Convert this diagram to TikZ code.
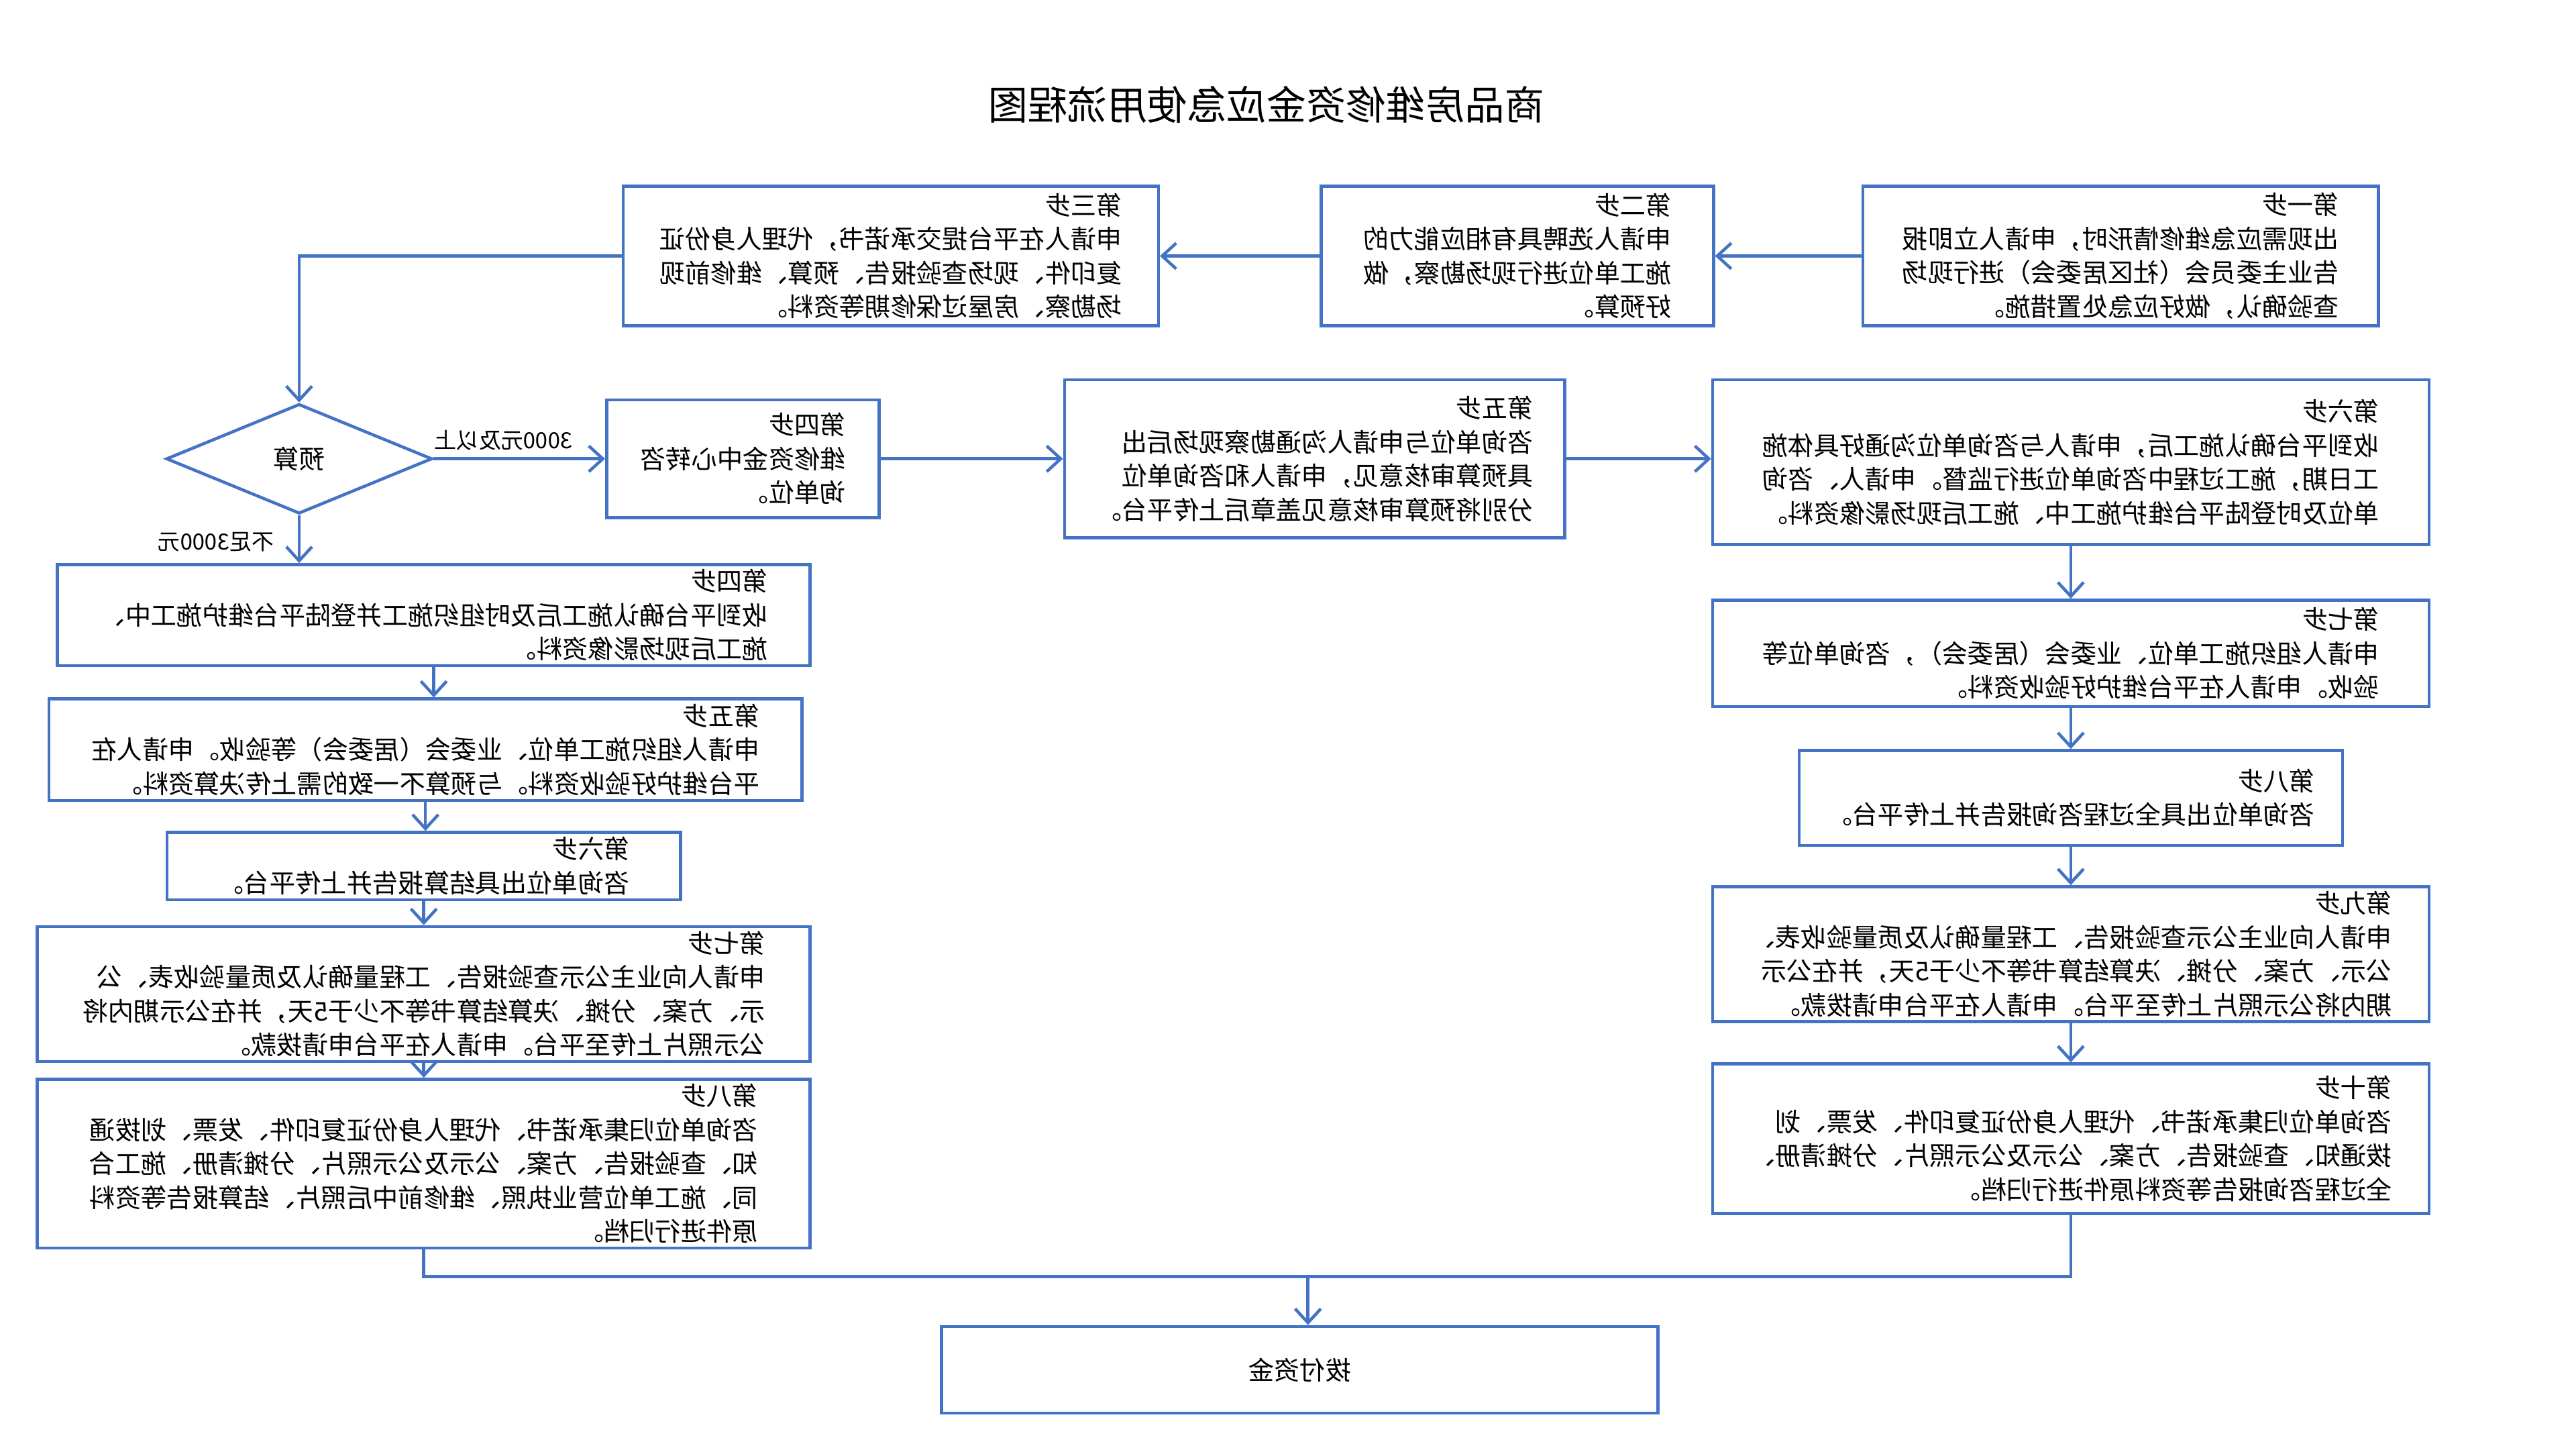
\documentclass[tikz,border=0pt]{standalone}
\usepackage{fontspec}
\setmainfont{Noto Sans CJK SC}
\usetikzlibrary{arrows.meta,shapes.geometric}
\definecolor{flowblue}{HTML}{4472C4}

\begin{document}
\begin{tikzpicture}[x=0.025cm,y=-0.025cm,
  box/.style 2 args={draw=flowblue,line width=1.3pt,xscale=-1,minimum width=#1*0.025cm,minimum height=#2*0.025cm,align=left,font=\fontsize{11}{14.5}\selectfont,inner sep=2pt},
  lbl/.style={xscale=-1,font=\fontsize{9.5}{11}\selectfont,inner sep=1pt},
  arr/.style={-{Straight Barb[length=6pt,width=11pt]},line width=1.3pt,flowblue},
  ln/.style={line width=1.3pt,flowblue}
]
\useasboundingbox (0,0) rectangle (1550,872);
\node[xscale=-1,font=\fontsize{17}{20}\selectfont] (title) at (762,63) {商品房维修资金应急使用流程图};

% top row
\node[box={310}{84}] (stepone) at (1276,154) {\hfil 第一步\hfil\\出现需应急维修情形时，申请人立即报\\告业主委员会（社区居委会）进行现场\\查验确认，做好应急处置措施。};
\node[box={236}{84}] (steptwo) at (913,154) {\hfil 第二步\hfil\\申请人选聘具有相应能力的\\施工单位进行现场勘察，做\\好预算。};
\node[box={322}{84}] (stepthree) at (536,154) {\hfil 第三步\hfil\\申请人在平台提交承诺书，代理人身份证\\复印件、现场查验报告、预算、维修前现\\场勘察、房屋过保修期等资料。};

% budget split
\node[draw=flowblue,line width=1.3pt,diamond,xscale=-1,minimum width=4cm,minimum height=1.65cm,inner sep=0pt,font=\fontsize{11}{14}\selectfont] (budget) at (180,276) {预算};
\node[box={164}{71}] (centerfour) at (447,276) {\hfil 第四步\hfil\\维修资金中心转咨\\询单位。};
\node[box={301}{95}] (centerfive) at (791,276) {\hfil 第五步\hfil\\咨询单位与申请人沟通勘察现场后出\\具预算审核意见，申请人和咨询单位\\分别将预算审核意见盖章后上传平台。};
\node[box={431}{99}] (rightsix) at (1246,278) {\hfil 第六步\hfil\\收到平台确认施工后，申请人与咨询单位沟通好具体施\\工日期，施工过程中咨询单位进行监督。申请人、咨询\\单位及时登陆平台维护施工中、施工后现场影像资料。};
\node[lbl] (overlbl) at (303,265) {3000元及以上};
\node[lbl] (underlbl) at (130,326) {不足3000元};

% right chain
\node[box={431}{64}] (rightseven) at (1246,393) {\hfil 第七步\hfil\\申请人组织施工单位、业委会（居委会），咨询单位等\\验收。申请人在平台维护好验收资料。};
\node[box={327}{57}] (righteight) at (1246,480) {\hfil 第八步\hfil\\咨询单位出具全过程咨询报告并上传平台。};
\node[box={431}{79}] (rightnine) at (1246,574) {\hfil 第九步\hfil\\申请人向业主公示查验报告、工程量确认及质量验收表、\\公示、方案、分摊、决算结算书等不少于5天，并在公示\\期内将公示照片上传至平台。申请人在平台申请拨款。};
\node[box={431}{90}] (rightten) at (1246,685) {\hfil 第十步\hfil\\咨询单位归集承诺书、代理人身份证复印件、发票、划\\拨通知、查验报告、方案、公示及公示照片、分摊清册、\\全过程咨询报告等资料原件进行归档。};

% left chain
\node[box={453}{59}] (leftfour) at (261,370) {\hfil 第四步\hfil\\收到平台确认施工后及时组织施工并登陆平台维护施工中、\\施工后现场影像资料。};
\node[box={453}{61}] (leftfive) at (256,451) {\hfil 第五步\hfil\\申请人组织施工单位、业委会（居委会）等验收。申请人在\\平台维护好验收资料。与预算不一致的需上传决算资料。};
\node[box={309}{40}] (leftsix) at (255,521) {\hfil 第六步\hfil\\咨询单位出具结算报告并上传平台。};
\node[box={465}{76}] (leftseven) at (255,598) {\hfil 第七步\hfil\\申请人向业主公示查验报告、工程量确认及质量验收表、公\\示、方案、分摊、决算结算书等不少于5天，并在公示期内将\\公示照片上传至平台。申请人在平台申请拨款。};
\node[box={465}{97}] (lefteight) at (255,700) {\hfil 第八步\hfil\\咨询单位归集承诺书、代理人身份证复印件、发票、划拨通\\知、查验报告、方案、公示及公示照片、分摊清册、施工合\\同、施工单位营业执照、维修前中后照片、结算报告等资料\\原件进行归档。};

\node[box={431}{52}] (payout) at (782,824) {拨付资金};
\coordinate (merge) at (787,768);

\draw[arr] (stepone) -- (steptwo);
\draw[arr] (steptwo) -- (stepthree);
\draw[arr] (stepthree.east) -| (budget.north);
\draw[arr] (budget) -- (centerfour);
\draw[arr] (centerfour) -- (centerfive);
\draw[arr] (centerfive.west) -- (rightsix.east |- centerfive.west);
\draw[arr] (budget.south) -- (budget.south |- leftfour.north);
\draw[arr] (leftfour.south) -- (leftfour.south |- leftfive.north);
\draw[arr] (leftfive.south) -- (leftfive.south |- leftsix.north);
\draw[arr] (leftsix.south) -- (leftsix.south |- leftseven.north);
\draw[arr] (leftseven.south) -- (leftseven.south |- lefteight.north);
\draw[arr] (rightsix) -- (rightseven);
\draw[arr] (rightseven) -- (righteight);
\draw[arr] (righteight) -- (rightnine);
\draw[arr] (rightnine) -- (rightten);
\draw[ln] (lefteight.south) |- (merge) -| (rightten.south);
\draw[arr] (merge) -- (merge |- payout.north);
\end{tikzpicture}
\end{document}
